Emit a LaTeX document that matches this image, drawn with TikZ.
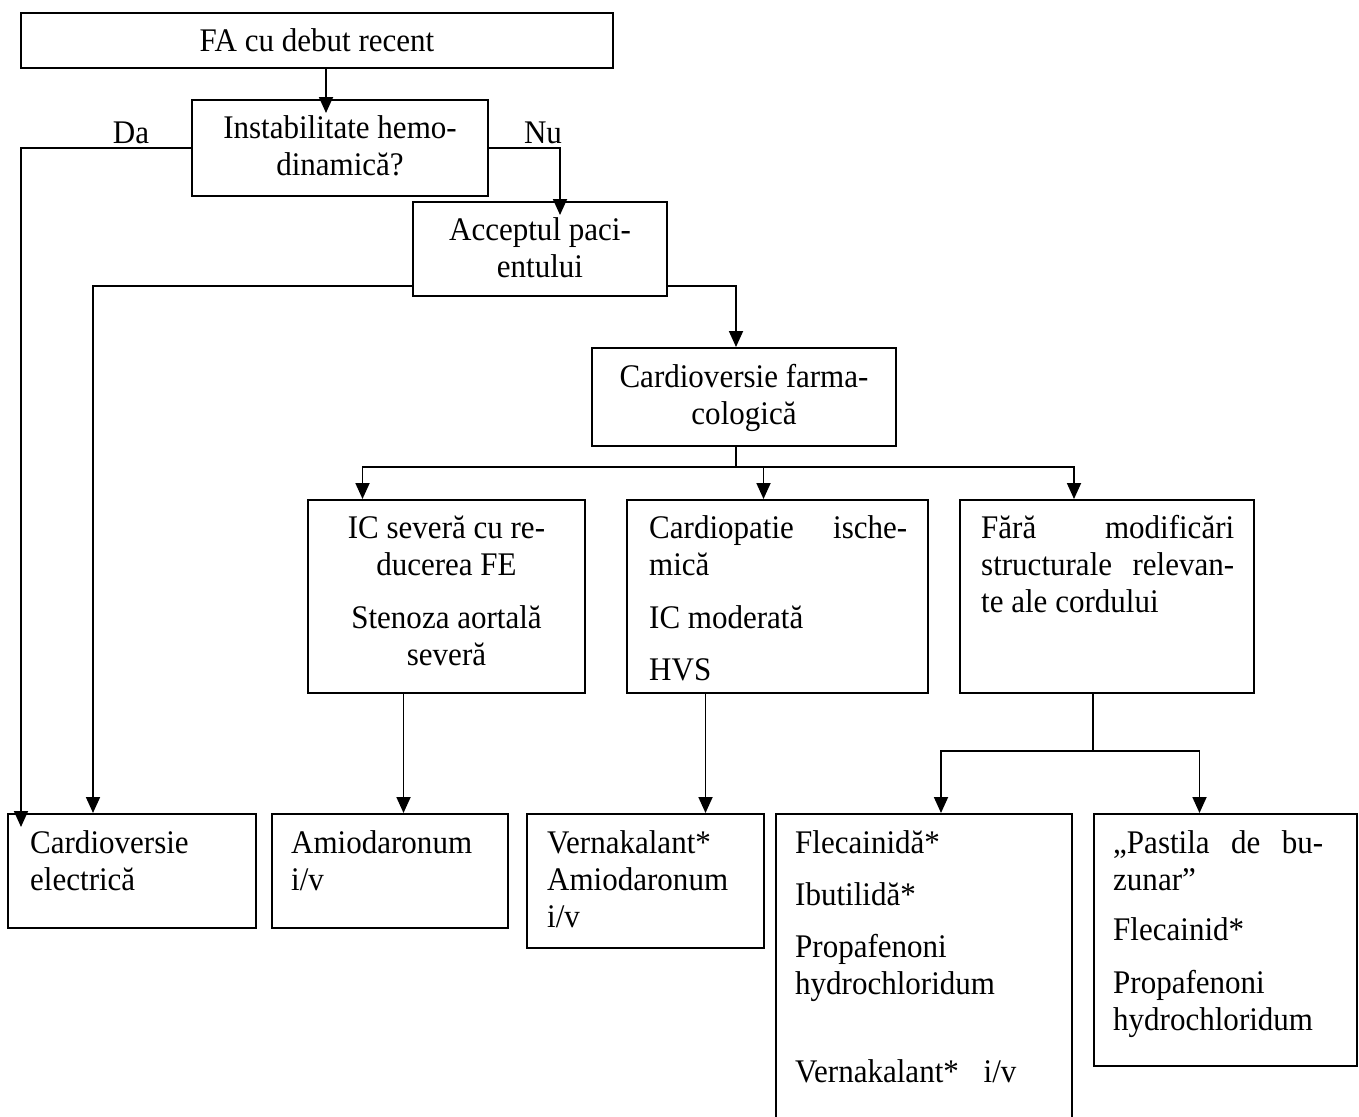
\documentclass[tikz,border=0pt]{standalone}
\usepackage{fontspec}
\setmainfont{Liberation Serif}[Ligatures=NoCommon, FakeStretch=0.94]
\usetikzlibrary{arrows.meta, positioning}

\tikzset{
  box/.style={draw, line width=2pt, anchor=north west, inner sep=0pt},
  txt/.style={inner sep=0pt, font=\fontsize{33}{37}\selectfont},
  link/.style={line width=1.8pt},
  arr/.style={link, -{Triangle[length=16pt, width=14pt]}}
}

\begin{document}
\begin{tikzpicture}[x=1pt, y=-1pt]
            \useasboundingbox (0,0) rectangle (1359,1116);
            \clip (0,0) rectangle (1359,1116);
            \node[box, minimum width=592pt, minimum height=55pt] (fa) at (20,12) {};
            \node[box, minimum width=296pt, minimum height=96pt] (inst) at (191,99) {};
            \node[box, minimum width=254pt, minimum height=94pt] (acc) at (412,201) {};
            \node[box, minimum width=304pt, minimum height=98pt] (farm) at (591,347) {};
            \node[box, minimum width=277pt, minimum height=193pt] (ics) at (307,499) {};
            \node[box, minimum width=301pt, minimum height=193pt] (isch) at (626,499) {};
            \node[box, minimum width=294pt, minimum height=193pt] (fara) at (959,499) {};
            \node[box, minimum width=248pt, minimum height=114pt] (elec) at (7,813) {};
            \node[box, minimum width=236pt, minimum height=114pt] (amio) at (271,813) {};
            \node[box, minimum width=237pt, minimum height=134pt] (vern) at (526,813) {};
            \node[box, minimum width=296pt, minimum height=330pt] (flec) at (775,813) {};
            \node[box, minimum width=263pt, minimum height=252pt] (past) at (1093,813) {};

            \node[txt, anchor=base] (tfa) at ([yshift=-40pt]fa.north) {FA cu debut recent};
            \node[txt, anchor=base, text width=280pt, align=flush center] (tinst) at ([yshift=-39pt]inst.north)
                {Instabilitate hemo-\\dinamică?};
            \node[txt, anchor=base, text width=240pt, align=flush center] (tacc) at ([yshift=-39pt]acc.north)
                {Acceptul paci-\\entului};
            \node[txt, anchor=base, text width=290pt, align=flush center] (tfarm) at ([yshift=-40pt]farm.north)
                {Cardioversie farma-\\cologică};
            \node[txt, anchor=base, text width=260pt, align=flush center] (tics) at ([yshift=-39pt]ics.north)
                {IC severă cu re-\\ducerea FE\\[16pt]Stenoza aortală\\severă};
            \node[txt, anchor=base west, text width=258pt, align=flush left] (tisch) at ([xshift=23pt, yshift=-39pt]isch.north west)
                {Cardiopatie\hfill ische-\\mică\\[16pt]IC moderată\\[15pt]HVS};
            \node[txt, anchor=base west, text width=253pt, align=flush left] (tfara) at ([xshift=22pt, yshift=-39pt]fara.north west)
                {Fără\hfill modificări\\structurale\hfill relevan-\\te ale cordului};
            \node[txt, anchor=base west, text width=215pt, align=flush left] (telec) at ([xshift=23pt, yshift=-40pt]elec.north west)
                {Cardioversie\\electrică};
            \node[txt, anchor=base west, text width=210pt, align=flush left] (tamio) at ([xshift=20pt, yshift=-40pt]amio.north west)
                {Amiodaronum\\i/v};
            \node[txt, anchor=base west, text width=210pt, align=flush left] (tvern) at ([xshift=21pt, yshift=-40pt]vern.north west)
                {Vernakalant*\\Amiodaronum\\i/v};
            \node[txt, anchor=base west, text width=270pt, align=flush left] (tflec) at ([xshift=20pt, yshift=-40pt]flec.north west)
                {Flecainidă*\\[15pt]Ibutilidă*\\[15pt]Propafenoni\\hydrochloridum\\[51pt]Vernakalant*\hspace{0.75em}i/v};
            \node[txt, anchor=base west, text width=210pt, align=flush left] (tpast) at ([xshift=20pt, yshift=-40pt]past.north west)
                {„Pastila\hfill de\hfill bu-\\zunar”\\[13pt]Flecainid*\\[16pt]Propafenoni\\hydrochloridum};

            \node[txt, anchor=base] (lda) at (131,143) {Da};
            \node[txt, anchor=base] (lnu) at (543,143) {Nu};

            \draw[arr] ([xshift=9pt]fa.south) -- ([xshift=9pt, yshift=-14pt]fa.south |- inst.north);
            \draw[arr] (inst.west) -| ([xshift=14pt, yshift=-14pt]elec.north west);
            \draw[arr] (inst.east) -| ([xshift=20pt, yshift=-14pt]acc.north);
            \draw[arr] ([yshift=11pt]acc.south west) -| ([xshift=86pt]elec.north west);
            \draw[arr] ([yshift=11pt]acc.south east) -| ([xshift=-8pt]farm.north);
            \draw[link] ([xshift=-8pt]farm.south) -- ++(0,20) coordinate (split);
            \draw[arr] (split) -| ([xshift=-84pt]ics.north);
            \draw[arr] (split) -| ([xshift=-14pt]isch.north);
            \draw[arr] (split) -| ([xshift=-33pt]fara.north);
            \draw[arr] ([xshift=-43pt]ics.south) -- ([xshift=-43pt]ics.south |- amio.north);
            \draw[arr] ([xshift=-72pt]isch.south) -- ([xshift=-72pt]isch.south |- vern.north);
            \draw[link] ([xshift=-14pt]fara.south) -- ++(0,57) coordinate (fork);
            \draw[arr] (fork) -| ([xshift=17pt]flec.north);
            \draw[arr] (fork) -| ([xshift=-26pt]past.north);
\end{tikzpicture}
\end{document}
